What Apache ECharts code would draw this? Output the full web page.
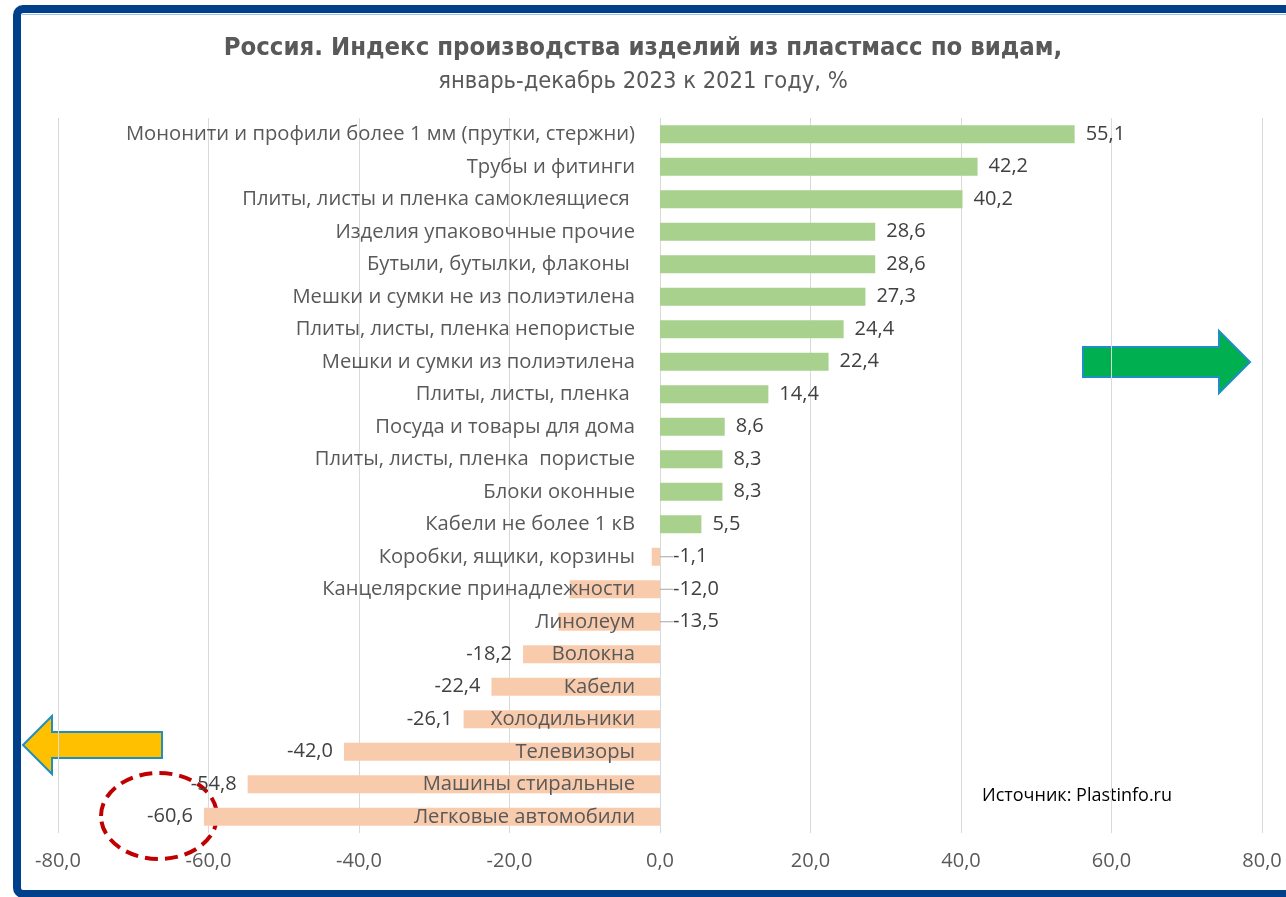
<!DOCTYPE html>
<html>
<head>
<meta charset="utf-8">
<script src="https://cdn.jsdelivr.net/npm/echarts@6/dist/echarts.min.js"></script>
<style>
  html, body { margin: 0; padding: 0; background: #fff; }
  #chart { width: 1286px; height: 897px; }
</style>
</head>
<body>
<div id="chart"></div>
<script>
// категории сверху вниз
var categories = [
    'Мононити и профили более 1 мм (прутки, стержни)',
    'Трубы и фитинги',
    'Плиты, листы и пленка самоклеящиеся ',
    'Изделия упаковочные прочие',
    'Бутыли, бутылки, флаконы ',
    'Мешки и сумки не из полиэтилена',
    'Плиты, листы, пленка непористые',
    'Мешки и сумки из полиэтилена',
    'Плиты, листы, пленка ',
    'Посуда и товары для дома',
    'Плиты, листы, пленка  пористые',
    'Блоки оконные',
    'Кабели не более 1 кВ',
    'Коробки, ящики, корзины',
    'Канцелярские принадлежности',
    'Линолеум',
    'Волокна',
    'Кабели',
    'Холодильники',
    'Телевизоры',
    'Машины стиральные',
    'Легковые автомобили'
];
var values = [55.1, 42.2, 40.2, 28.6, 28.6, 27.3, 24.4, 22.4, 14.4, 8.6, 8.3, 8.3, 5.5,
    -1.1, -12.0, -13.5, -18.2, -22.4, -26.1, -42.0, -54.8, -60.6];
// подписи, вынесенные вправо от нуля с выноской
var movedLabels = ['Коробки, ящики, корзины', 'Канцелярские принадлежности', 'Линолеум'];
var xTicks = { min: -80, max: 80, interval: 20 };

var fmt = function (v) {
    return v.toFixed(1).replace('.', ',');
};

var chartW = 1286;
var gridLeft = 58, gridRight = 24;
// сдвиг оси категорий к нулю шкалы значений
var zeroOffset = -(chartW - gridLeft - gridRight) * (0 - xTicks.min) / (xTicks.max - xTicks.min);

var chart = echarts.init(document.getElementById('chart'));

var seriesData = values.map(function (v, i) {
    var item = {
        value: v,
        itemStyle: { color: v >= 0 ? '#a9d18e' : '#f8cbad' },
        label: { position: v >= 0 ? 'right' : 'left' }
    };
    if (movedLabels.indexOf(categories[i]) >= 0) {
        item.label = { position: 'left' };
        item.labelLine = { show: true };
    }
    return item;
});

chart.setOption({
    animation: false,
    title: [{
        text: 'Россия. Индекс производства изделий из пластмасс по видам,',
        left: 'center',
        top: 30,
        textStyle: { fontFamily: 'DejaVu Sans Condensed, Open Sans', fontWeight: 'bold', fontSize: 25.5, color: '#595959' }
    }, {
        text: 'январь-декабрь 2023 к 2021 году, %',
        left: 'center',
        top: 65,
        textStyle: { fontFamily: 'DejaVu Sans Condensed, Open Sans', fontWeight: 'normal', fontSize: 23.5, color: '#595959' }
    }],
    grid: { left: gridLeft, right: gridRight, top: 118, bottom: 64, containLabel: false, outerBoundsMode: 'none' },
    xAxis: {
        type: 'value',
        min: xTicks.min,
        max: xTicks.max,
        interval: xTicks.interval,
        axisLine: { show: false },
        axisTick: { show: false },
        splitLine: { lineStyle: { color: '#d9d9d9', width: 1 } },
        axisLabel: {
            formatter: fmt,
            margin: 18,
            fontFamily: 'Open Sans',
            fontSize: 20,
            color: '#595959'
        }
    },
    yAxis: {
        type: 'category',
        data: categories,
        inverse: true,
        position: 'left',
        offset: zeroOffset,
        z: 10,
        axisLine: { show: false },
        axisTick: { show: false },
        axisLabel: {
            margin: 25,
            fontFamily: 'Open Sans',
            fontSize: 20.2,
            color: '#595959'
        }
    },
    series: [{
        type: 'bar',
        barWidth: 18,
        data: seriesData,
        label: {
            show: true,
            distance: 11,
            fontFamily: 'Open Sans',
            fontSize: 20,
            color: '#404040',
            formatter: function (p) { return fmt(p.value); }
        },
        labelLine: { show: false, lineStyle: { color: '#a6a6a6', width: 1 } },
        labelLayout: function (params) {
            if (movedLabels.indexOf(categories[params.dataIndex]) < 0) {
                return {};
            }
            var r = params.rect;
            var target = r.x + r.width + 13;
            return { dx: target - params.labelRect.x };
        }
    }],
    graphic: [
        // рамка слайда
        {
            type: 'rect',
            shape: { x: 17, y: 9, width: 1300, height: 885, r: 6 },
            style: { fill: 'none', stroke: '#003f8a', lineWidth: 8 },
            silent: true
        },
        {
            type: 'line',
            shape: { x1: 22, y1: 14.5, x2: 1286, y2: 14.5 },
            style: { stroke: '#9dc3e6', lineWidth: 1 },
            silent: true
        },
        // зелёная стрелка вправо
        {
            type: 'polygon',
            shape: { points: [[1083, 347], [1219, 347], [1219, 331], [1250, 362], [1219, 393], [1219, 377], [1083, 377]] },
            style: { fill: '#00b050', stroke: '#1f8fc1', lineWidth: 2 },
            silent: true
        },
        // жёлтая стрелка влево
        {
            type: 'polygon',
            shape: { points: [[162, 732], [52, 732], [52, 716], [23, 745], [52, 774], [52, 758], [162, 758]] },
            style: { fill: '#ffc000', stroke: '#1f8fc1', lineWidth: 2 },
            silent: true
        },
        // пунктирный овал
        {
            type: 'ellipse',
            shape: { cx: 159, cy: 816, rx: 58, ry: 43 },
            style: { fill: 'none', stroke: '#c00000', lineWidth: 4, lineDash: [13, 7] },
            silent: true
        },
        {
            type: 'text',
            left: 982,
            top: 787,
            style: { text: 'Источник: Plastinfo.ru', fontFamily: 'Open Sans', fontSize: 18, fill: '#000' },
            silent: true
        }
    ]
});
</script>
</body>
</html>
